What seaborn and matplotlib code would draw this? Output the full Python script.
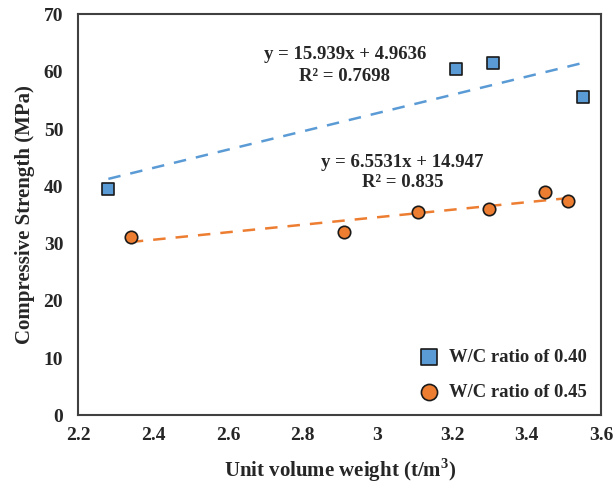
import numpy as np
import pandas as pd
import matplotlib.pyplot as plt
import seaborn as sns

# W/C ratio of 0.40
x40 = [2.28, 3.21, 3.31, 3.55]
y40 = [39.6, 60.4, 61.6, 55.6]
# W/C ratio of 0.45
x45 = [2.34, 2.91, 3.11, 3.30, 3.45, 3.51]
y45 = [31.2, 32.1, 35.5, 36.0, 39.1, 37.5]

# trendline coefficients (slope, intercept) as printed on the chart
fit40 = (15.939, 4.9636)
fit45 = (6.5531, 14.947)
r2_40 = 0.7698
r2_45 = 0.835

xticks = [2.2, 2.4, 2.6, 2.8, 3.0, 3.2, 3.4, 3.6]
xticklabels = ['2.2', '2.4', '2.6', '2.8', '3', '3.2', '3.4', '3.6']
yticks = [0, 10, 20, 30, 40, 50, 60, 70]

blue = '#5B9BD5'
orange = '#ED7D31'

sns.set_style('white')
plt.rcParams['font.family'] = ['Liberation Serif', 'DejaVu Serif']
plt.rcParams['font.weight'] = 'bold'

fig = plt.figure(figsize=(6.15, 4.88), dpi=100)
ax = fig.add_axes([0.1276, 0.1486, 0.8504, 0.8217])

# trendlines
tx40 = np.array([min(x40), max(x40)])
tx45 = np.array([min(x45), max(x45)])
sns.lineplot(x=tx40, y=fit40[0] * tx40 + fit40[1], ax=ax, color=blue,
             linestyle=(0, (5, 4)), linewidth=1.8)
sns.lineplot(x=tx45, y=fit45[0] * tx45 + fit45[1], ax=ax, color=orange,
             linestyle=(0, (5, 4)), linewidth=1.8)

sns.scatterplot(x=x40, y=y40, ax=ax, marker='s', s=80, color=blue,
                edgecolor='#1a1a1a', linewidth=1.2, label='W/C ratio of 0.40', zorder=3)
sns.scatterplot(x=x45, y=y45, ax=ax, marker='o', s=80, color=orange,
                edgecolor='#1a1a1a', linewidth=1.2, label='W/C ratio of 0.45', zorder=3)

fs = 13.5
ax.text(2.913, 63.0, f'y = {fit40[0]}x + {fit40[1]}', ha='center', va='center', fontsize=fs, fontweight='bold')
ax.text(2.913, 59.1, f'R² = {r2_40}', ha='center', va='center', fontsize=fs, fontweight='bold')
ax.text(3.068, 44.1, f'y = {fit45[0]}x + {fit45[1]}', ha='center', va='center', fontsize=fs, fontweight='bold')
ax.text(3.068, 40.6, f'R² = {r2_45}', ha='center', va='center', fontsize=fs, fontweight='bold')

ax.set_xlim(2.2, 3.6)
ax.set_ylim(0, 70)
ax.set_xticks(xticks, labels=xticklabels, fontweight='bold')
ax.set_yticks(yticks, labels=[str(v) for v in yticks], fontweight='bold')
ax.tick_params(axis='both', direction='in', length=5, width=1.2, color='#404040',
               labelsize=14)
ax.tick_params(axis='x', pad=8)
ax.tick_params(axis='y', pad=11)
for sp in ax.spines.values():
    sp.set_color('#404040')
    sp.set_linewidth(1.5)

ax.set_xlabel('Unit volume weight (t/m$^\\mathregular{3}$)', fontsize=15, fontweight='bold', labelpad=9)
ax.set_ylabel('Compressive Strength (MPa)', fontsize=15, fontweight='bold', labelpad=6)

ax.legend(loc='lower right', frameon=False, fontsize=13.4, handlelength=1.5,
          handletextpad=0.3, labelspacing=0.97, borderaxespad=0.4, markerscale=1.3)

fig.savefig('out.png', dpi=100)
